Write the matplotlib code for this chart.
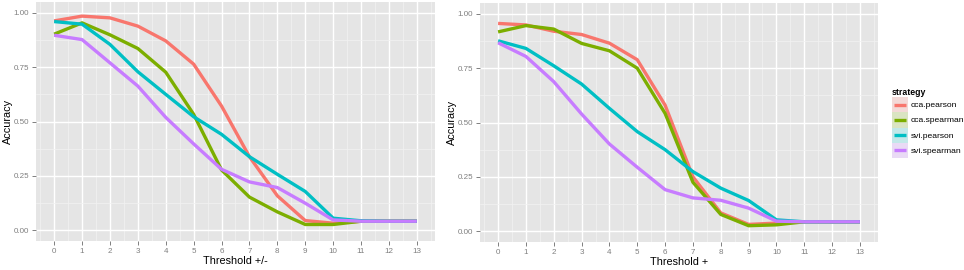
import matplotlib
matplotlib.use("Agg")
import matplotlib.pyplot as plt
from matplotlib.lines import Line2D
from matplotlib.patches import Rectangle
from matplotlib.legend_handler import HandlerBase
from matplotlib.colors import to_rgb
import numpy as np

plt.rcParams['font.family'] = ['Liberation Sans', 'DejaVu Sans']

thresholds = list(range(14))
strategies = ["cca.pearson", "cca.spearman", "svi.pearson", "svi.spearman"]
colors = ["#F8766D", "#7CAE00", "#00BFC4", "#C77CFF"]

# Left panel: Threshold +/-
pm_cca_pearson = [0.963, 0.985, 0.977, 0.939, 0.871, 0.764, 0.571, 0.338, 0.158, 0.044, 0.032, 0.041, 0.041, 0.041]
pm_cca_spearman = [0.902, 0.954, 0.899, 0.836, 0.727, 0.533, 0.277, 0.152, 0.084, 0.026, 0.026, 0.041, 0.041, 0.041]
pm_svi_pearson = [0.960, 0.948, 0.855, 0.729, 0.625, 0.522, 0.441, 0.338, 0.257, 0.178, 0.055, 0.043, 0.041, 0.041]
pm_svi_spearman = [0.897, 0.877, 0.770, 0.663, 0.519, 0.397, 0.280, 0.222, 0.196, 0.124, 0.047, 0.041, 0.041, 0.041]

# Right panel: Threshold +
p_cca_pearson = [0.956, 0.949, 0.920, 0.905, 0.865, 0.789, 0.580, 0.250, 0.084, 0.031, 0.037, 0.043, 0.043, 0.043]
p_cca_spearman = [0.917, 0.946, 0.930, 0.864, 0.830, 0.750, 0.542, 0.225, 0.077, 0.025, 0.029, 0.043, 0.043, 0.043]
p_svi_pearson = [0.876, 0.841, 0.761, 0.677, 0.565, 0.458, 0.375, 0.274, 0.198, 0.141, 0.052, 0.043, 0.043, 0.043]
p_svi_spearman = [0.867, 0.804, 0.688, 0.539, 0.401, 0.294, 0.191, 0.153, 0.142, 0.106, 0.046, 0.043, 0.043, 0.043]

y_ticks = [0.0, 0.25, 0.5, 0.75, 1.0]


class KeyHandler(HandlerBase):
    def create_artists(self, legend, orig_handle, xdescent, ydescent,
                       width, height, fontsize, trans):
        c = np.array(to_rgb(orig_handle.get_color()))
        bg = 0.2 * c + 0.8 * np.array(to_rgb("#F2F2F2"))
        rect = Rectangle((-xdescent, -ydescent), width, height,
                         facecolor=bg, edgecolor="none", transform=trans)
        yc = -ydescent + height / 2.0
        line = Line2D([-xdescent + 0.1 * width, -xdescent + 0.9 * width], [yc, yc],
                      color=orig_handle.get_color(), linewidth=2.4,
                      solid_capstyle="butt", transform=trans)
        return [rect, line]


W, H = 964, 270
fig = plt.figure(figsize=(W / 100, H / 100), dpi=100)
fig.patch.set_facecolor("white")

axL = fig.add_axes([36 / W, 1 - 241 / H, (435 - 36) / W, (241 - 2) / H])
axR = fig.add_axes([480 / W, 1 - 242 / H, (878 - 480) / W, (242 - 3) / H])

panels = [
    (axL, [pm_cca_pearson, pm_cca_spearman, pm_svi_pearson, pm_svi_spearman], "Threshold +/-"),
    (axR, [p_cca_pearson, p_cca_spearman, p_svi_pearson, p_svi_spearman], "Threshold +"),
]

for ax, series, xlabel in panels:
    ax.set_facecolor("#E5E5E5")
    for s in ax.spines.values():
        s.set_visible(False)
    ax.set_xlim(-0.65, 13.65)
    ax.set_ylim(-0.05, 1.05)
    ax.set_xticks(thresholds)
    ax.set_xticklabels([str(t) for t in thresholds])
    ax.set_xticks(np.arange(-0.5, 14, 1.0), minor=True)
    ax.set_yticks(y_ticks)
    ax.set_yticklabels(["%.2f" % v for v in y_ticks])
    ax.set_yticks([0.125, 0.375, 0.625, 0.875], minor=True)
    ax.grid(True, which="major", color="white", linewidth=1.0)
    ax.grid(True, which="minor", color="#F2F2F2", linewidth=0.5)
    ax.set_axisbelow(True)
    ax.tick_params(which="major", length=3, width=0.7, color="#7F7F7F",
                   labelsize=5.8, labelcolor="#7F7F7F", pad=2)
    ax.tick_params(which="minor", length=0)
    for vals, c in zip(series, colors):
        ax.plot(thresholds, vals, color=c, linewidth=2.4, solid_capstyle="butt")
    ax.set_xlabel(xlabel, fontsize=7.8, labelpad=1)
    ax.set_ylabel("Accuracy", fontsize=7.8, labelpad=0.5)

handles = [Line2D([], [], color=c, linewidth=2.4) for c in colors]
leg = fig.legend(handles, strategies, title="strategy",
                 handler_map={Line2D: KeyHandler()},
                 loc="upper left", bbox_to_anchor=(886 / W, 1 - 82 / H),
                 frameon=False, fontsize=6.1, title_fontsize=6.3,
                 handlelength=1.9, handleheight=2.4, handletextpad=0.35,
                 labelspacing=0.0, borderpad=0.2, alignment="left")
leg.get_title().set_fontweight("bold")

fig.savefig("out.png", dpi=100)
